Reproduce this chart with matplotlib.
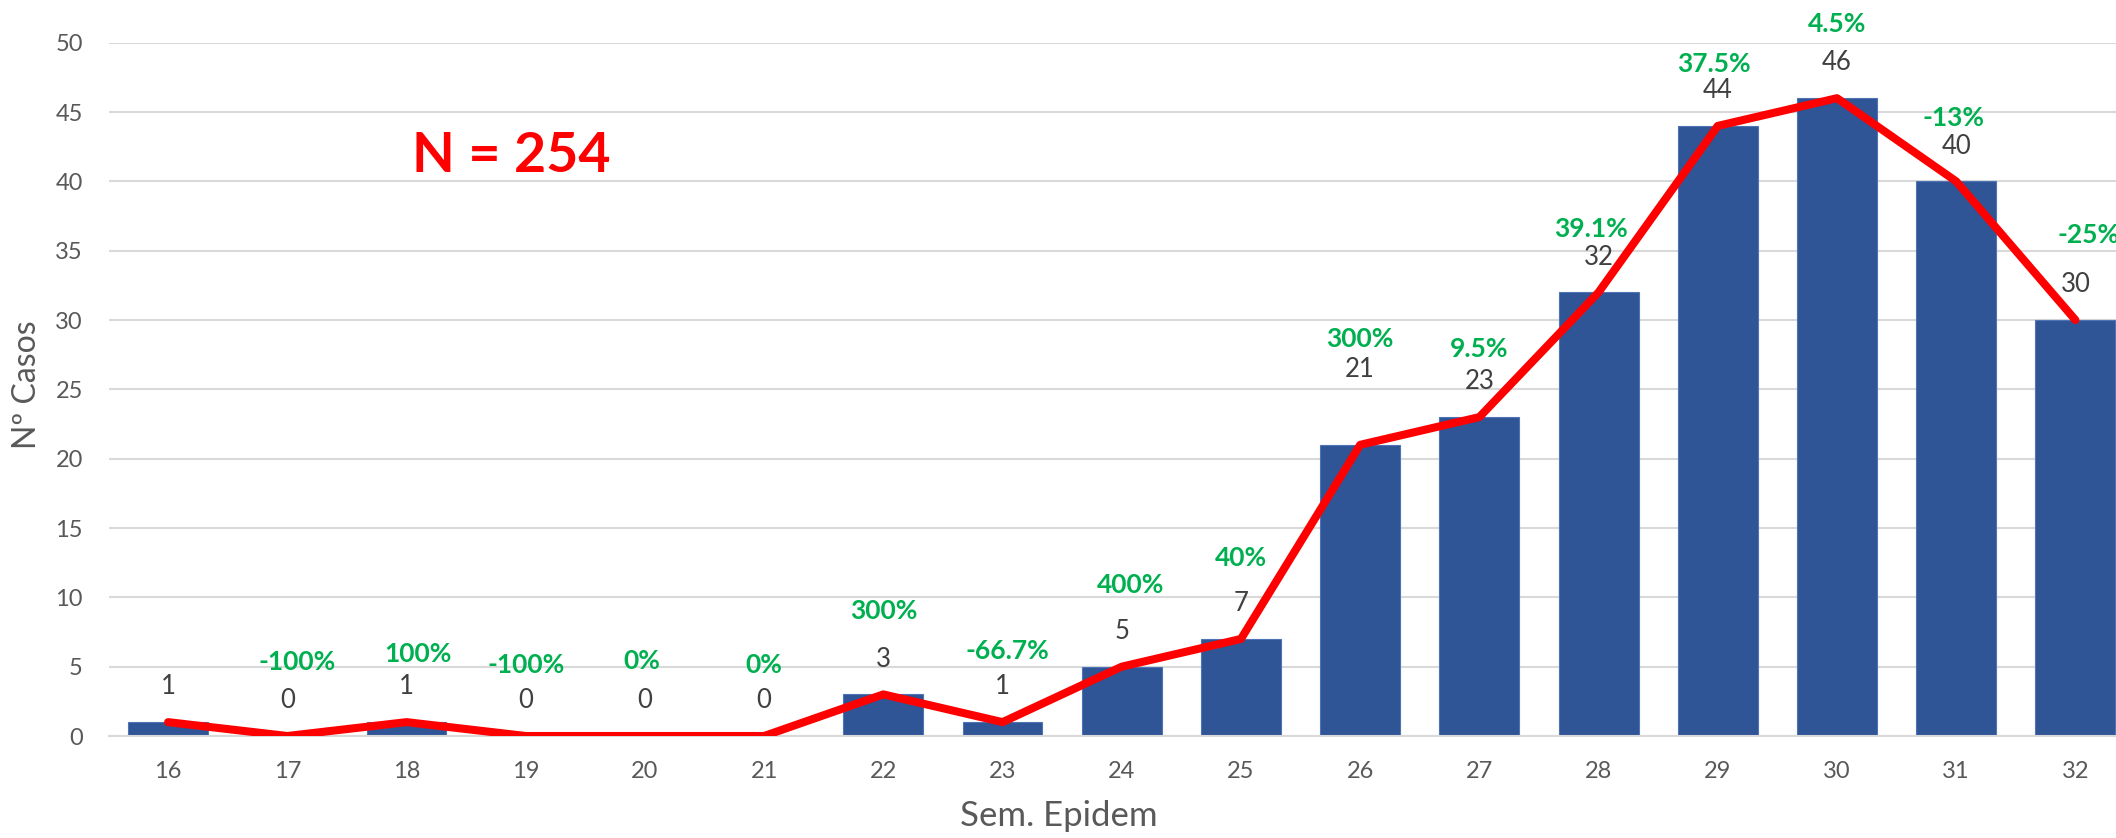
import matplotlib
matplotlib.use("Agg")
import matplotlib.pyplot as plt

# ---- data ----
weeks = ["16", "17", "18", "19", "20", "21", "22", "23", "24",
         "25", "26", "27", "28", "29", "30", "31", "32"]
cases = [1, 0, 1, 0, 0, 0, 3, 1, 5, 7, 21, 23, 32, 44, 46, 40, 30]
pct_labels = ["", "-100%", "100%", "-100%", "0%", "0%", "300%", "-66.7%", "400%",
              "40%", "300%", "9.5%", "39.1%", "37.5%", "4.5%", "-13%", "-25%"]
# manual placement of the green % boxes (y centre in data units, x shift in categories)
pct_y = [0, 5.48, 6.06, 5.26, 5.55, 5.26, 9.16, 6.27, 11.03,
         12.98, 28.78, 28.05, 36.71, 48.6, 51.49, 44.71, 36.28]
pct_dx = [0, 0.08, 0.10, 0.0, -0.03, 0.0, 0.0, 0.04, 0.07,
          0.0, 0.0, 0.0, -0.06, -0.03, 0.0, -0.02, 0.11]
# extra lift (points) of individual value labels moved by hand
val_lift = [0, 0, 0, 0, 0, 0, 0, 0, 0, 0, 29, 0, 0, 0, 0, 0, 0]
total_label = "N = 254"
yticks = [0, 5, 10, 15, 20, 25, 30, 35, 40, 45, 50]

FONT = ["Lato", "DejaVu Sans"]
plt.rcParams["font.family"] = FONT

W, H = 2116, 838
fig = plt.figure(figsize=(W / 100, H / 100), dpi=100)
ax = fig.add_axes([108.5 / W, 102 / H, 2026.5 / W, 693.3 / H])

x = list(range(len(weeks)))
ax.bar(x, cases, width=0.67, color="#2F5597", edgecolor="#4F74B5", linewidth=0.8, zorder=2)
ax.plot(x, cases, color="#FF0000", linewidth=5.8, solid_capstyle="round",
        solid_joinstyle="round", zorder=3)

ax.set_xlim(-0.5, len(weeks) - 0.5)
ax.set_ylim(0, 50)
ax.set_yticks(yticks)
ax.set_xticks(x)
ax.set_xticklabels(weeks)
ax.tick_params(axis="both", length=0, labelsize=17, labelcolor="#595959")
ax.tick_params(axis="x", pad=18)
ax.tick_params(axis="y", pad=18.5)
ax.grid(axis="y", color="#D9D9D9", linewidth=1.5, zorder=0)
ax.set_axisbelow(True)
for s in ["top", "right", "left"]:
    ax.spines[s].set_visible(False)
ax.spines["bottom"].set_color("#D9D9D9")
ax.spines["bottom"].set_linewidth(1.5)

for xi, v, lift in zip(x, cases, val_lift):
    ax.annotate(str(v), xy=(xi, v), xytext=(0, 20 + lift), textcoords="offset points",
                ha="center", va="baseline", fontsize=18.5, color="#404040", zorder=4)

for xi, lab, yy, dx in zip(x, pct_labels, pct_y, pct_dx):
    if lab:
        ax.annotate(lab, xy=(xi + dx, yy), xytext=(0, -7.3), textcoords="offset points",
                    ha="center", va="baseline", fontsize=19, fontweight="bold",
                    color="#00B050", zorder=4, annotation_clip=False)

ax.text(2.046, 40.67, total_label, ha="left", va="baseline", fontsize=40,
        fontweight="bold", color="#FF0000")

fig.text(27 / W, 1 - 385 / H, "Nº Casos", rotation=90, ha="center", va="center",
         fontsize=23, color="#595959")
fig.text(1059 / W, 1 - 816 / H, "Sem. Epidem", ha="center", va="center",
         fontsize=25, color="#595959")

fig.savefig("out.png", dpi=100)
